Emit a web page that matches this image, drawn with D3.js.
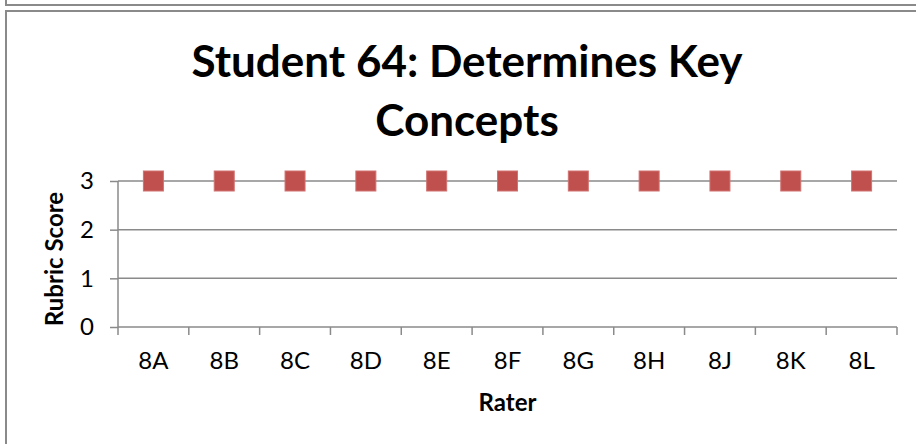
<!DOCTYPE html>
<meta charset="utf-8">
<style>
  body { margin: 0; background: #fff; }
  svg { display: block; font-family: Lato, "Open Sans", sans-serif; }
  .grid line { stroke: #8a8a8a; stroke-width: 1.5; }
  .axis path, .axis line { stroke: #8a8a8a; stroke-width: 1.5; }
  .axis text { fill: #000; }
  .ttl { font-weight: bold; fill: #000; }
</style>
<body>
<svg width="916" height="444"></svg>
</body>
<script src="https://d3js.org/d3.v7.min.js"></script>
<script>
  // chart values
  var raters = ["8A", "8B", "8C", "8D", "8E", "8F", "8G", "8H", "8J", "8K", "8L"];
  var scores = [3, 3, 3, 3, 3, 3, 3, 3, 3, 3, 3];
  var yTicks = [0, 1, 2, 3];
  var titleLines = ["Student 64: Determines Key", "Concepts"];

  var svg = d3.select("svg");

  // frame borders (the chart sits in a spreadsheet-like box)
  svg.append("path")
    .attr("d", "M6,0V5H916")
    .attr("fill", "none").attr("stroke", "#8a8a8a").attr("stroke-width", 2);
  svg.append("path")
    .attr("d", "M916,11H6V444")
    .attr("fill", "none").attr("stroke", "#8a8a8a").attr("stroke-width", 2);

  var margin = {left: 118, right: 19, top: 181, bottom: 117},
    width = 916 - margin.left - margin.right,
    height = 444 - margin.top - margin.bottom;

  var x = d3.scaleBand().domain(raters).range([0, width]);
  var y = d3.scaleLinear().domain([0, 3]).range([height, 0]);

  var g = svg.append("g")
    .attr("transform", "translate(" + margin.left + "," + margin.top + ")");

  // horizontal gridlines
  g.append("g").attr("class", "grid")
    .selectAll("line")
    .data(yTicks.filter(function (d) { return d > 0; }))
    .enter().append("line")
    .attr("x1", 0).attr("x2", width)
    .attr("y1", function (d) { return y(d); })
    .attr("y2", function (d) { return y(d); });

  // y axis
  var yAxis = g.append("g").attr("class", "axis")
    .call(d3.axisLeft(y).tickValues(yTicks).tickSize(8).tickPadding(16).tickFormat(d3.format("d")))
    .attr("font-family", "Lato, sans-serif").attr("font-size", 24);
  yAxis.select(".domain").attr("d", "M0," + height + "V0");

  // x axis, ticks on band edges
  var xAxis = g.append("g").attr("class", "axis")
    .attr("transform", "translate(0," + height + ")")
    .call(d3.axisBottom(x).tickSize(0).tickPadding(25))
    .attr("font-family", "Lato, sans-serif").attr("font-size", 24);
  xAxis.select(".domain").attr("d", "M0,0H" + width);
  xAxis.selectAll(".edge")
    .data(d3.range(raters.length + 1))
    .enter().append("line")
    .attr("class", "edge")
    .attr("x1", function (i) { return i * x.step(); })
    .attr("x2", function (i) { return i * x.step(); })
    .attr("y1", 0).attr("y2", 8);

  // markers
  var ms = 20;
  g.selectAll(".pt")
    .data(raters.map(function (r, i) { return {r: r, v: scores[i]}; }))
    .enter().append("rect")
    .attr("class", "pt")
    .attr("x", function (d) { return x(d.r) + x.bandwidth() / 2 - ms / 2; })
    .attr("y", function (d) { return y(d.v) - ms / 2; })
    .attr("width", ms).attr("height", ms)
    .attr("fill", "#c0504d")
    .attr("stroke", "#d07270").attr("stroke-width", 1);

  // title
  svg.append("text").attr("class", "ttl")
    .attr("text-anchor", "middle")
    .attr("font-size", 44)
    .selectAll("tspan")
    .data(titleLines)
    .enter().append("tspan")
    .attr("x", 467)
    .attr("y", function (d, i) { return 77 + i * 59; })
    .text(function (d) { return d; });

  // axis titles
  svg.append("text").attr("class", "ttl")
    .attr("text-anchor", "middle").attr("font-size", 24)
    .attr("x", margin.left + width / 2).attr("y", 411)
    .text("Rater");
  svg.append("text").attr("class", "ttl")
    .attr("text-anchor", "middle").attr("font-size", 24)
    .attr("transform", "translate(63,259) rotate(-90)")
    .text("Rubric Score");
</script>
